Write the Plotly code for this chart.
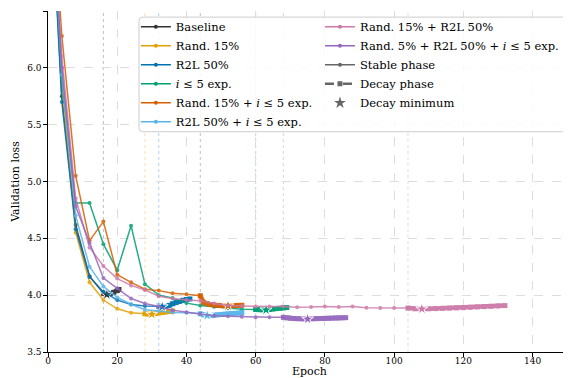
import plotly.graph_objects as go

# ---------------- data ----------------
stable_epochs_step = 4

names = [
    "Baseline",
    "Rand. 15%",
    "R2L 50%",
    "<i>i</i> ≤ 5 exp.",
    "Rand. 15% + <i>i</i> ≤ 5 exp.",
    "R2L 50% + <i>i</i> ≤ 5 exp.",
    "Rand. 15% + R2L 50%",
    "Rand. 5% + R2L 50% + <i>i</i> ≤ 5 exp.",
]
colors = ["#333333", "#E69F00", "#0072B2", "#009E73", "#D55E00", "#56B4E9", "#CC79A7", "#9467BD"]

# stable phase (evaluated every 4 epochs from epoch 0)
baseline_stable = [8.05, 5.75, 4.617, 4.167, 4.016]
rand15_stable = [8.05, 5.85, 4.55, 4.113, 3.957, 3.88, 3.845, 3.836]
r2l50_stable = [8.05, 5.70, 4.58, 4.16, 4.03, 3.957, 3.917, 3.905, 3.903]
i5_stable = [8.05, 5.91, 4.81, 4.81, 4.449, 4.22, 4.61, 4.097, 4.00, 3.975, 3.93, 3.91,
             3.897, 3.885, 3.877, 3.874]
rand15_i5_stable = [8.05, 6.28, 5.05, 4.48, 4.647, 4.18, 4.113, 4.052, 4.04, 4.016, 4.007, 3.995]
r2l50_i5_stable = [8.05, 5.94, 4.70, 4.25, 4.077, 3.98, 3.92, 3.872, 3.86, 3.848, 3.845, 3.836]
rand15_r2l50_stable = [8.05, 6.10, 4.85, 4.42, 4.257, 4.146, 4.086, 4.046, 3.99, 3.97, 3.957,
                       3.95, 3.926, 3.91, 3.905, 3.90, 3.90, 3.90, 3.893, 3.895, 3.90, 3.895,
                       3.90, 3.89, 3.887, 3.887, 3.886]
rand5_r2l50_i5_stable = [8.05, 6.00, 4.78, 4.46, 4.15, 4.06, 3.97, 3.926, 3.90, 3.867, 3.85,
                         3.836, 3.82, 3.815, 3.81, 3.806, 3.806, 3.805]

# decay phase (epoch, loss)
baseline_decay_x = [16, 17, 18, 19, 20, 20.5]
baseline_decay_y = [4.016, 4.005, 4.012, 4.025, 4.040, 4.050]
rand15_decay_x = [28, 29, 30, 31, 32, 33, 34, 35, 36]
rand15_decay_y = [3.836, 3.833, 3.832, 3.838, 3.843, 3.848, 3.852, 3.856, 3.860]
r2l50_decay_x = [32, 33, 34, 35, 36, 37, 38, 39, 40, 41]
r2l50_decay_y = [3.903, 3.898, 3.900, 3.910, 3.925, 3.935, 3.945, 3.955, 3.962, 3.967]
i5_decay_x = [60, 61, 62, 63, 64, 65, 66, 67, 68, 69]
i5_decay_y = [3.874, 3.872, 3.871, 3.870, 3.874, 3.878, 3.882, 3.885, 3.888, 3.891]
rand15_i5_decay_x = [44, 45, 46, 47, 48, 49, 50, 51, 52, 53, 54, 55, 56]
rand15_i5_decay_y = [3.995, 3.935, 3.925, 3.918, 3.913, 3.910, 3.908, 3.907, 3.906, 3.908,
                     3.909, 3.910, 3.911]
r2l50_i5_decay_x = [44, 45, 46, 47, 48, 49, 50, 51, 52, 53, 54, 55, 56]
r2l50_i5_decay_y = [3.836, 3.826, 3.821, 3.822, 3.824, 3.827, 3.830, 3.833, 3.836, 3.838,
                    3.840, 3.842, 3.845]
rand15_r2l50_decay_x = [104, 106, 108, 110, 112, 114, 116, 118, 120, 122, 124, 126, 128, 130, 132]
rand15_r2l50_decay_y = [3.886, 3.880, 3.879, 3.880, 3.882, 3.884, 3.886, 3.888, 3.890, 3.893,
                        3.896, 3.899, 3.902, 3.905, 3.908]
rand5_r2l50_i5_decay_x = [68, 69, 70, 71, 72, 73, 74, 75, 76, 77, 78, 79, 80, 81, 82, 83, 84, 85, 86]
rand5_r2l50_i5_decay_y = [3.805, 3.800, 3.797, 3.795, 3.793, 3.792, 3.791, 3.790, 3.792, 3.793,
                          3.794, 3.795, 3.796, 3.797, 3.798, 3.799, 3.800, 3.801, 3.802]

stables = [baseline_stable, rand15_stable, r2l50_stable, i5_stable, rand15_i5_stable,
           r2l50_i5_stable, rand15_r2l50_stable, rand5_r2l50_i5_stable]
decays_x = [baseline_decay_x, rand15_decay_x, r2l50_decay_x, i5_decay_x, rand15_i5_decay_x,
            r2l50_i5_decay_x, rand15_r2l50_decay_x, rand5_r2l50_i5_decay_x]
decays_y = [baseline_decay_y, rand15_decay_y, r2l50_decay_y, i5_decay_y, rand15_i5_decay_y,
            r2l50_i5_decay_y, rand15_r2l50_decay_y, rand5_r2l50_i5_decay_y]

x_ticks = [0, 20, 40, 60, 80, 100, 120, 140]
y_ticks = [3.5, 4.0, 4.5, 5.0, 5.5, 6.0, 6.5]

FONT = "DejaVu Serif, Liberation Serif, serif"
fig = go.Figure()
shapes = []

for name, col, st, dx, dy in zip(names, colors, stables, decays_x, decays_y):
    ex = [i * stable_epochs_step for i in range(len(st))]
    shapes.append(dict(type="line", xref="x", yref="paper", x0=dx[0], x1=dx[0], y0=0, y1=1,
                       line=dict(color=col, width=1, dash="dot"), opacity=0.3, layer="below"))
    fig.add_trace(go.Scatter(x=ex, y=st, mode="lines+markers", showlegend=False,
                             line=dict(color=col, width=1.5), marker=dict(size=4, color=col),
                             opacity=0.85, hoverinfo="skip"))
    fig.add_trace(go.Scatter(x=dx, y=dy, mode="lines+markers", showlegend=False,
                             line=dict(color=col, width=4.5),
                             marker=dict(size=5, color=col, symbol="square"),
                             opacity=0.95, hoverinfo="skip"))
    imin = min(range(len(dy)), key=lambda k: dy[k])
    fig.add_trace(go.Scatter(x=[dx[imin]], y=[dy[imin]], mode="markers", showlegend=False,
                             marker=dict(size=9, color=col, symbol="star",
                                         line=dict(color="white", width=1)),
                             hoverinfo="skip"))

# legend box (drawn as a shape; the two legend columns sit on top of it)
bx0, bx1, by0, by1 = 0.174, 0.994, 0.646, 0.982
rx, ry = 0.007, 0.011
box_path = (f"M {bx0+rx},{by0} L {bx1-rx},{by0} Q {bx1},{by0} {bx1},{by0+ry} "
            f"L {bx1},{by1-ry} Q {bx1},{by1} {bx1-rx},{by1} L {bx0+rx},{by1} "
            f"Q {bx0},{by1} {bx0},{by1-ry} L {bx0},{by0+ry} Q {bx0},{by0} {bx0+rx},{by0} Z")
shapes.append(dict(type="path", xref="paper", yref="paper", path=box_path,
                   fillcolor="rgba(255,255,255,0.85)", line=dict(color="#cccccc", width=1),
                   layer="above"))

gray = "#666666"
left_col = [0, 1, 2, 3, 4, 5]
for k, i in enumerate(left_col):
    fig.add_trace(go.Scatter(x=[None], y=[None], mode="lines+markers", name=names[i],
                             line=dict(color=colors[i], width=1.5),
                             marker=dict(size=4, color=colors[i]), legend="legend",
                             legendrank=100 + k))
right_items = [
    go.Scatter(x=[None], y=[None], mode="lines+markers", name=names[6],
               line=dict(color=colors[6], width=1.5), marker=dict(size=4, color=colors[6])),
    go.Scatter(x=[None], y=[None], mode="lines+markers", name=names[7],
               line=dict(color=colors[7], width=1.5), marker=dict(size=4, color=colors[7])),
    go.Scatter(x=[None], y=[None], mode="lines+markers", name="Stable phase",
               line=dict(color=gray, width=1.5), marker=dict(size=4, color=gray)),
    go.Scatter(x=[None], y=[None], mode="lines+markers", name="Decay phase",
               line=dict(color=gray, width=2.5, dash="dash"),
               marker=dict(size=5, color=gray, symbol="square")),
    go.Scatter(x=[None], y=[None], mode="markers", name="Decay minimum",
               marker=dict(size=9, color=gray, symbol="star")),
]
for k, tr in enumerate(right_items):
    tr.legend = "legend2"
    tr.legendrank = 200 + k
    fig.add_trace(tr)

leg_common = dict(xanchor="left", yanchor="top", bgcolor="rgba(0,0,0,0)", borderwidth=0,
                  font=dict(family=FONT, size=11.5, color="black"), tracegroupgap=0,
                  orientation="v")

fig.update_layout(
    width=563, height=370,
    margin=dict(l=40, r=0, t=3, b=26),
    paper_bgcolor="white", plot_bgcolor="white",
    font=dict(family=FONT, size=11, color="black"),
    shapes=shapes,
    legend=dict(x=0.168, y=0.996, **leg_common),
    legend2=dict(x=0.520, y=0.996, **leg_common),
    showlegend=True,
)
fig.update_xaxes(range=[0, 151.1], tickvals=x_ticks, showgrid=True, gridcolor="#dddddd",
                 griddash="dash", gridwidth=0.8, zeroline=False, showline=True,
                 linecolor="black", linewidth=1.2, ticks="outside", ticklen=3.5,
                 tickcolor="black", tickfont=dict(family=FONT, size=9), automargin=False,
                 ticklabelstandoff=-3,
                 title=dict(text="Epoch", font=dict(family=FONT, size=11), standoff=8))
fig.update_yaxes(range=[3.5, 6.5], tickvals=y_ticks, tickformat=".1f", showgrid=True,
                 gridcolor="#dddddd", griddash="dash", gridwidth=0.8, zeroline=False,
                 showline=True, linecolor="black", linewidth=1.2, ticks="outside",
                 ticklen=3.5, tickcolor="black", tickfont=dict(family=FONT, size=9),
                 automargin=False,
                 title=dict(text="Validation loss", font=dict(family=FONT, size=11), standoff=5))

fig.write_html("out.html")
